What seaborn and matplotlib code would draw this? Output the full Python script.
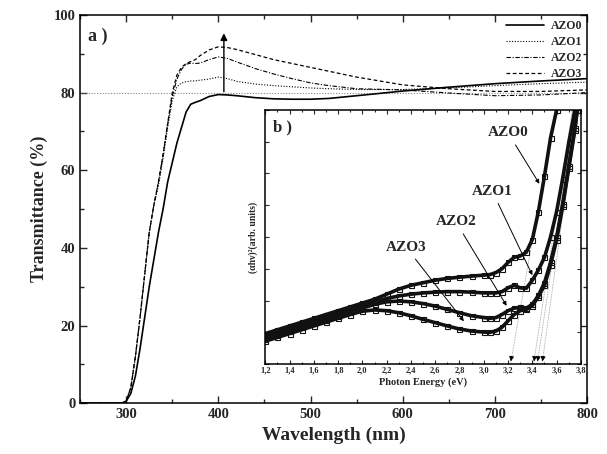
import numpy as np
import pandas as pd
import matplotlib
matplotlib.use("Agg")
import matplotlib.pyplot as plt
import seaborn as sns

# --- main panel: transmittance vs wavelength ---
wavelength = [250, 290, 295, 300, 305, 310, 315, 320, 325, 330, 335, 340, 345, 350,
              355, 360, 365, 370, 375, 380, 390, 400, 410, 420, 440, 460, 480, 500,
              520, 550, 600, 650, 700, 750, 800]
azo0_T = [0, 0, 0, 0.5, 2.5, 7, 14, 22, 30, 37, 44, 50, 57, 62,
          67, 71, 75, 77, 77.5, 77.9, 79, 79.5, 79.4, 79.2, 78.7, 78.4, 78.3, 78.3,
          78.5, 79.2, 80.4, 81.4, 82.3, 83, 83.6]
azo1_T = [0, 0, 0, 0.5, 4, 12, 22, 33, 44, 51, 56, 63, 71, 78,
          81.5, 82.5, 82.8, 83, 83, 83.2, 83.5, 84, 83.6, 82.9, 82.2, 81.8, 81.5, 81.2,
          81, 80.8, 80.8, 81.2, 81.8, 82.3, 82.7]
azo2_T = [0, 0, 0, 0.5, 4, 12, 22, 33, 44, 51, 57, 64, 72, 79,
          83.5, 86, 87.3, 87.6, 87.5, 87.6, 88.5, 89.2, 88.8, 87.9, 86.2, 84.8, 83.6, 82.5,
          81.8, 81, 80.7, 79.9, 79.2, 79.4, 80]
azo3_T = [0, 0, 0, 0.5, 4, 12, 22, 33, 44, 51, 57, 64, 72, 80,
          84.5, 86.5, 87.5, 88, 88.5, 89.5, 91, 91.8, 91.6, 91.1, 89.8, 88.5, 87.5, 86.5,
          85.5, 84, 82, 81, 80.3, 80.3, 80.7]

samples = ["AZO0", "AZO1", "AZO2", "AZO3"]

# --- inset: Tauc plot ---
azo0_E = [1.2, 1.3, 1.4, 1.5, 1.6, 1.7, 1.8, 1.9, 2.0, 2.1, 2.2, 2.3, 2.4, 2.5, 2.6, 2.7,
          2.8, 2.9, 3.0, 3.05, 3.1, 3.15, 3.2, 3.25, 3.3, 3.35, 3.4, 3.45, 3.5, 3.55, 3.6]
azo0_a = [12, 13.5, 15, 16.5, 18, 19.5, 21, 22.5, 24, 25.5, 27.5, 29.5, 31, 32, 33, 33.7,
          34.2, 34.6, 35, 35.2, 36, 37.5, 40, 42, 42.5, 44, 49, 60, 74, 89, 100]
azo1_E = [1.2, 1.3, 1.4, 1.5, 1.6, 1.7, 1.8, 1.9, 2.0, 2.1, 2.2, 2.3, 2.4, 2.5, 2.6, 2.7,
          2.8, 2.9, 3.0, 3.05, 3.1, 3.15, 3.2, 3.25, 3.3, 3.35, 3.4, 3.45, 3.5, 3.55, 3.6,
          3.65, 3.7, 3.75]
azo1_a = [11, 12.5, 14, 15.5, 17, 18.5, 20, 21.5, 23, 24.5, 25.8, 26.8, 27.5, 28, 28.3, 28.5,
          28.5, 28.3, 28, 28, 28, 28.5, 30, 31, 30, 29.8, 33, 37, 42, 50, 60,
          73, 87, 100]
azo2_E = [1.2, 1.3, 1.4, 1.5, 1.6, 1.7, 1.8, 1.9, 2.0, 2.1, 2.2, 2.3, 2.4, 2.5, 2.6, 2.7,
          2.8, 2.9, 3.0, 3.05, 3.1, 3.15, 3.2, 3.25, 3.3, 3.35, 3.4, 3.45, 3.5, 3.55, 3.6,
          3.65, 3.7, 3.75, 3.77]
azo2_a = [10, 11.5, 13, 14.5, 16, 17.5, 19, 20.5, 22, 23.5, 24.5, 24.8, 24.5, 23.8, 22.8, 21.5,
          20.2, 19, 18.3, 18, 18.3, 19.5, 21, 22, 22.3, 22, 23.5, 27, 32, 40, 50,
          63, 78, 93, 100]
azo3_E = [1.2, 1.3, 1.4, 1.5, 1.6, 1.7, 1.8, 1.9, 2.0, 2.1, 2.2, 2.3, 2.4, 2.5, 2.6, 2.7,
          2.8, 2.9, 3.0, 3.05, 3.1, 3.15, 3.2, 3.25, 3.3, 3.35, 3.4, 3.45, 3.5, 3.55, 3.6,
          3.65, 3.7, 3.75, 3.77]
azo3_a = [9, 10.5, 12, 13.5, 15, 16.5, 18, 19.5, 20.8, 21.3, 21, 20.2, 19, 17.6, 16.3, 15,
          13.8, 13, 12.6, 12.5, 13, 14.5, 17, 19.5, 21, 21.5, 23, 26.5, 31, 39, 49,
          62, 77, 92, 100]

# band-gap extrapolations (intercept on energy axis, energy where line reaches top)
gap_E = [3.22, 3.41, 3.44, 3.48]
gap_top_E = [3.59, 3.73, 3.75, 3.77]

sns.set_theme(style="ticks")
plt.rcParams["font.family"] = ["Liberation Serif", "DejaVu Serif"]
plt.rcParams["font.weight"] = "bold"
plt.rcParams["axes.labelweight"] = "bold"
plt.rcParams["xtick.direction"] = "in"
plt.rcParams["ytick.direction"] = "in"
plt.rcParams["axes.edgecolor"] = "black"
plt.rcParams["axes.linewidth"] = 1.1

fig = plt.figure(figsize=(6.07, 4.54), dpi=100)
ax = fig.add_axes([0.132, 0.112, 0.835, 0.855])

styles = {
    "AZO0": dict(linestyle="-", lw=1.2),
    "AZO1": dict(linestyle=(0, (1, 1.5)), lw=0.8),
    "AZO2": dict(linestyle=(0, (4, 1.5, 1, 1.5)), lw=0.8),
    "AZO3": dict(linestyle=(0, (3, 2)), lw=0.9),
}
trans = pd.DataFrame({"wavelength": wavelength, "AZO0": azo0_T, "AZO1": azo1_T,
                      "AZO2": azo2_T, "AZO3": azo3_T})

ax.axhline(80, color="#888888", lw=0.8, linestyle=(0, (1, 1.5)))
handles = []
for s in samples:
    sns.lineplot(data=trans, x="wavelength", y=s, ax=ax, color="black",
                 label=s, legend=False, **styles[s])
    handles.append(ax.lines[-1])

ax.annotate("", xy=(406, 96), xytext=(406, 79.5),
            arrowprops=dict(arrowstyle="-|>", lw=1.0, color="black", mutation_scale=10))

ax.set_xlim(250, 800)
ax.set_ylim(0, 100)
ax.set_xticks([300, 400, 500, 600, 700, 800])
ax.set_xticks(np.arange(250, 801, 50), minor=True)
ax.set_yticks([0, 20, 40, 60, 80, 100])
ax.set_yticks(np.arange(0, 101, 10), minor=True)
ax.tick_params(which="both", top=True, right=True, labelsize=10.5, width=1)
ax.tick_params(which="major", length=5)
ax.tick_params(which="minor", length=3)
ax.set_xlabel("Wavelength (nm)", fontsize=14)
ax.set_ylabel("Transmittance (%)", fontsize=13)
ax.text(0.015, 0.945, "a )", transform=ax.transAxes, fontsize=13,
        fontweight="bold", va="center")
ax.legend(handles, samples, loc="upper right", frameon=False, fontsize=8.5,
          handlelength=3.2, labelspacing=0.35, borderaxespad=0.2, borderpad=0.2,
          handletextpad=0.6)

# inset
ins = fig.add_axes([0.437, 0.198, 0.520, 0.560])
ins.set_facecolor("white")
for Ex, Ey in zip(gap_E, gap_top_E):
    ins.plot([Ex, Ey], [0, 100], color="#999999", lw=0.6, linestyle=(0, (1, 1)))
    ins.annotate("", xy=(Ex, 0), xytext=(Ex + 0.012, 4),
                 arrowprops=dict(arrowstyle="-|>", lw=0.6, color="black",
                                 mutation_scale=7))

tauc = [(azo0_E, azo0_a), (azo1_E, azo1_a), (azo2_E, azo2_a), (azo3_E, azo3_a)]
for s, (ex, ey) in zip(samples, tauc):
    d = pd.DataFrame({"E": ex, "a": ey})
    sns.lineplot(data=d, x="E", y="a", ax=ins, color="#111111", lw=2.6,
                 marker="s", markersize=3.6, markerfacecolor="none",
                 markeredgecolor="#111111", markeredgewidth=0.8, legend=False)

arrow_kw = dict(arrowstyle="-|>", lw=0.7, color="black", mutation_scale=6)
ins.annotate("AZO0", xy=(3.47, 70), xytext=(3.2, 91), ha="center", va="center",
             fontsize=11, fontweight="bold", arrowprops=arrow_kw)
ins.annotate("AZO1", xy=(3.41, 34), xytext=(3.07, 68), ha="center", va="center",
             fontsize=11, fontweight="bold", arrowprops=arrow_kw)
ins.annotate("AZO2", xy=(3.2, 22), xytext=(2.77, 56), ha="center", va="center",
             fontsize=11, fontweight="bold", arrowprops=arrow_kw)
ins.annotate("AZO3", xy=(2.85, 16), xytext=(2.36, 46), ha="center", va="center",
             fontsize=11, fontweight="bold", arrowprops=arrow_kw)

ins.set_xlim(1.2, 3.8)
ins.set_ylim(0, 100)
eticks = np.round(np.arange(1.2, 3.81, 0.2), 1)
ins.set_xticks(eticks)
ins.set_xticklabels([f"{v:.1f}".replace(".", ",") for v in eticks])
ins.set_xticks(np.arange(1.2, 3.81, 0.1), minor=True)
ins.set_yticks(np.arange(0, 101, 12.5))
ins.set_yticklabels([])
ins.tick_params(which="both", top=True, right=True, labelsize=6, width=0.8, pad=2)
ins.tick_params(which="major", length=3)
ins.tick_params(which="minor", length=1.5)
ins.set_xlabel("Photon Energy (eV)", fontsize=7.5, labelpad=2)
ins.set_ylabel("(αhν)²(arb. units)", fontsize=7, labelpad=3)
ins.text(0.025, 0.93, "b )", transform=ins.transAxes, fontsize=12,
         fontweight="bold", va="center")

fig.savefig("out.png", dpi=100)
